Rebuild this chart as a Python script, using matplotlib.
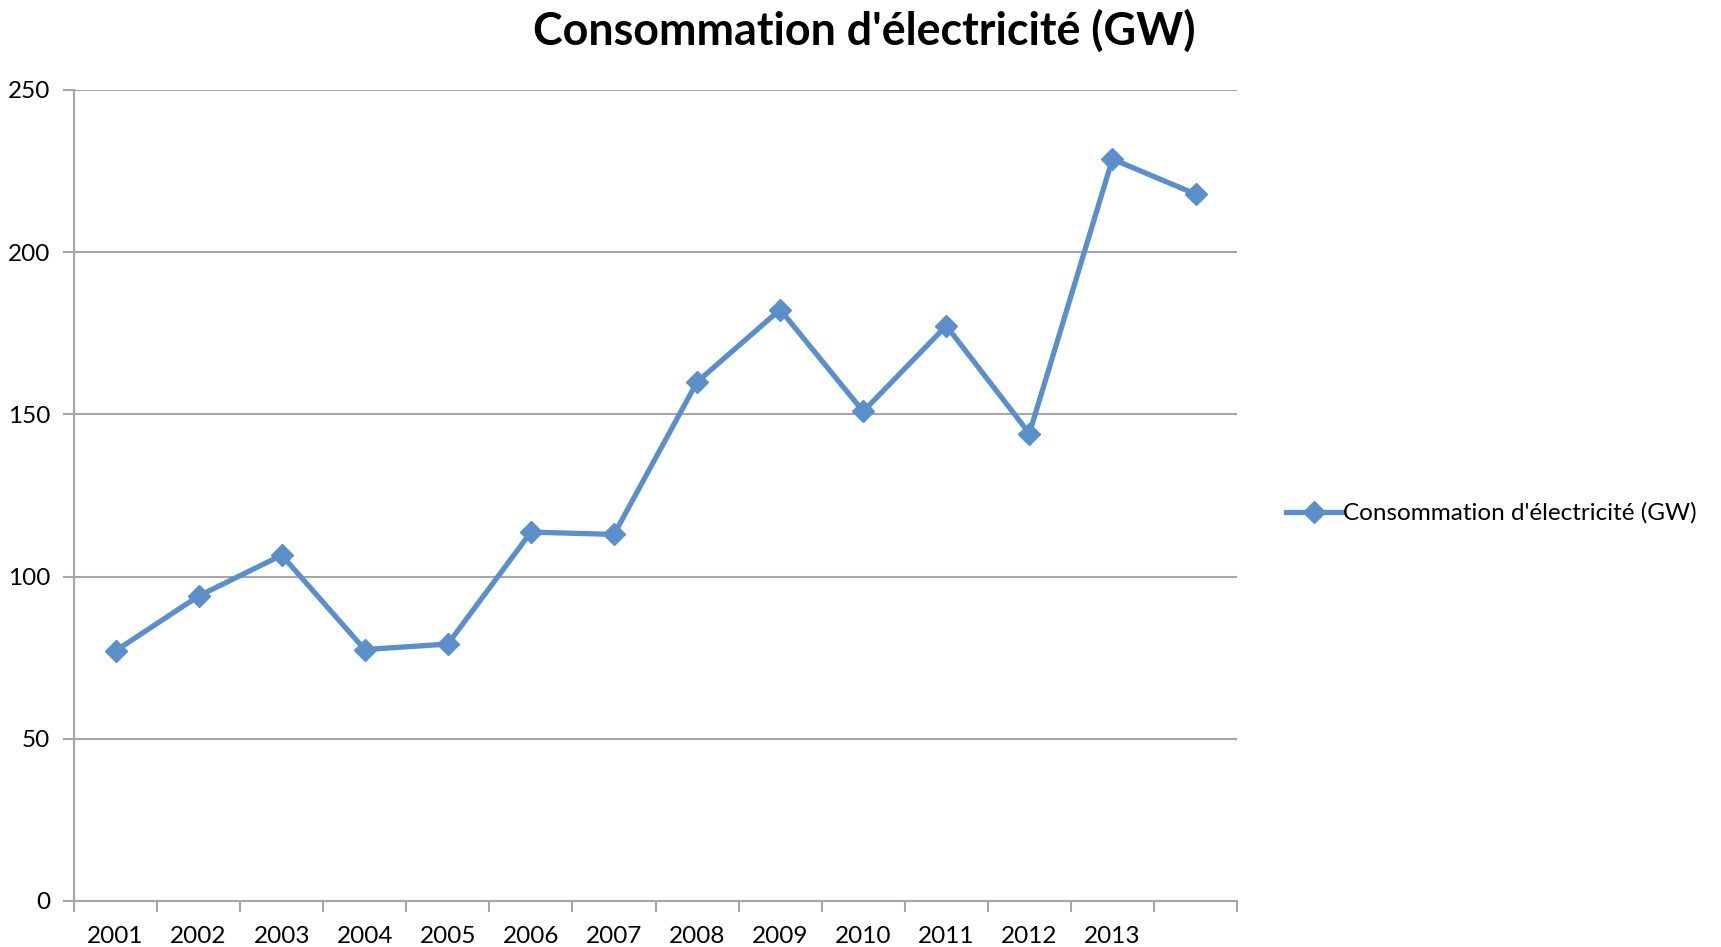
import numpy as np
import matplotlib
matplotlib.use('Agg')
import matplotlib.pyplot as plt

plt.rcParams['font.family'] = ['Lato', 'DejaVu Sans']

years = ['2001', '2002', '2003', '2004', '2005', '2006', '2007',
         '2008', '2009', '2010', '2011', '2012', '2013', '']
conso = [77.1, 94.0, 106.6, 77.5, 79.2, 113.7, 113.0,
         160.0, 182.3, 150.9, 177.3, 144.1, 228.7, 217.9]
seriesName = "Consommation d'électricité (GW)"

lineColor = '#5b8fc9'
gridColor = '#a6a6a6'

fig = plt.figure(figsize=(17.21, 9.47), dpi=100, facecolor='w')
ax = fig.add_axes([0.043, 0.0486, 0.6758, 0.8564])

x = np.arange(len(years))
ax.plot(x, conso, color=lineColor, lw=3.8, marker='D', ms=11.5,
        mfc=lineColor, mec=lineColor, label=seriesName, solid_joinstyle='miter')

ax.set_xlim(-0.5, len(years) - 0.5)
ax.set_ylim(0, 250)
ax.set_yticks(np.arange(0, 251, 50))
ax.yaxis.grid(True, color=gridColor, lw=1.5)
ax.set_axisbelow(True)

# category boundaries carry the tick marks, labels sit between them
ax.set_xticks(np.arange(-0.5, len(years)), labels=[''] * (len(years) + 1))
ax.set_xticks(x, labels=years, minor=True)
ax.tick_params(axis='x', which='major', length=8, width=1.5, color=gridColor)
ax.tick_params(axis='x', which='minor', length=0, labelsize=17.5, pad=18)
ax.tick_params(axis='y', length=8, width=1.5, color=gridColor, labelsize=17.5, pad=9)

for side in ['top', 'right']:
    ax.spines[side].set_visible(False)
for side in ['left', 'bottom']:
    ax.spines[side].set_color(gridColor)
    ax.spines[side].set_linewidth(1.5)

fig.suptitle(seriesName, fontsize=32.3, fontweight='bold', x=0.502, y=0.99, va='top')

fig.legend(loc='center left', bbox_to_anchor=(0.7415, 0.458), frameon=False,
           fontsize=17.5, handlelength=2.3, handletextpad=0.05, borderaxespad=0)

fig.savefig('out.png', dpi=100, facecolor='w')
